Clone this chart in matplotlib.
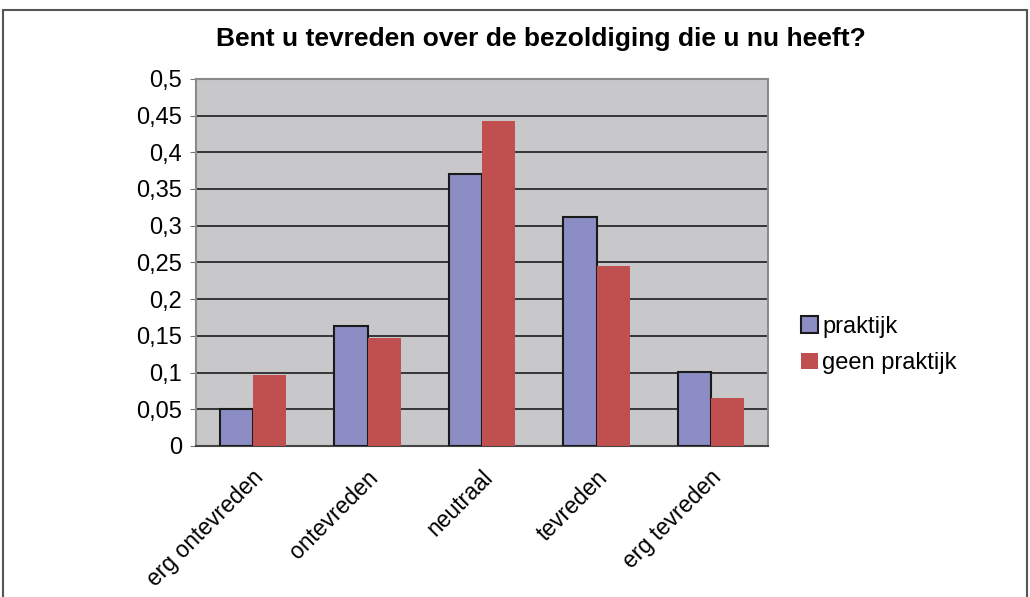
import matplotlib.pyplot as plt
import matplotlib.transforms as mtransforms
import numpy as np
from matplotlib.patches import Rectangle

plt.rcParams['font.family'] = ['Liberation Sans', 'DejaVu Sans']

categories = ['erg ontevreden', 'ontevreden', 'neutraal', 'tevreden', 'erg tevreden']
praktijk = [0.051, 0.164, 0.370, 0.312, 0.101]
geen_praktijk = [0.097, 0.147, 0.442, 0.245, 0.065]
yticks = [0, 0.05, 0.1, 0.15, 0.2, 0.25, 0.3, 0.35, 0.4, 0.45, 0.5]
ylabels = ['0', '0,05', '0,1', '0,15', '0,2', '0,25', '0,3', '0,35', '0,4', '0,45', '0,5']

fig = plt.figure(figsize=(10.3, 5.97), dpi=100)
# frame round the whole chart
fig.patches.append(Rectangle((0.003, -0.01), 0.994, 0.993, transform=fig.transFigure,
                             fill=False, edgecolor='#555555', linewidth=1.5))

ax = fig.add_axes([0.190, 0.253, 0.556, 0.615])
ax.set_facecolor('#C8C8CA')

x = np.arange(len(categories))
w = 0.29
ax.bar(x - w / 2, praktijk, w, color='#8B8DC4', edgecolor='#1a1a1a', linewidth=1.5,
       label='praktijk', zorder=3)
ax.bar(x + w / 2, geen_praktijk, w, color='#C0504F', edgecolor='none',
       label='geen praktijk', zorder=3)

ax.set_xlim(-0.5, len(categories) - 0.5)
ax.set_ylim(0, 0.5)
ax.set_yticks(yticks)
ax.set_yticklabels(ylabels, fontsize=17)
ax.yaxis.grid(True, color='#2a2a2a', linewidth=1.3, zorder=1)
ax.set_axisbelow(True)
ax.tick_params(axis='y', length=4, color='#777777', pad=6)
ax.tick_params(axis='x', length=0, pad=8)

ax.set_xticks(x)
ax.set_xticklabels(categories, fontsize=16.5, rotation=45, ha='right',
                   rotation_mode='anchor')
shift = mtransforms.ScaledTranslation(-0.01, -0.09, fig.dpi_scale_trans)
for lbl in ax.get_xticklabels():
    lbl.set_transform(lbl.get_transform() + shift)

for s in ax.spines.values():
    s.set_color('#8a8a8a')
    s.set_linewidth(1.5)
ax.spines['bottom'].set_color('#444444')

fig.text(0.525, 0.935, 'Bent u tevreden over de bezoldiging die u nu heeft?',
         ha='center', va='center', fontsize=19, fontweight='bold')

leg = ax.legend(loc='center left', bbox_to_anchor=(1.02, 0.275), frameon=False,
                fontsize=17, handlelength=0.7, handleheight=0.7, handletextpad=0.2,
                labelspacing=0.6)

fig.savefig('out.png', dpi=100)
